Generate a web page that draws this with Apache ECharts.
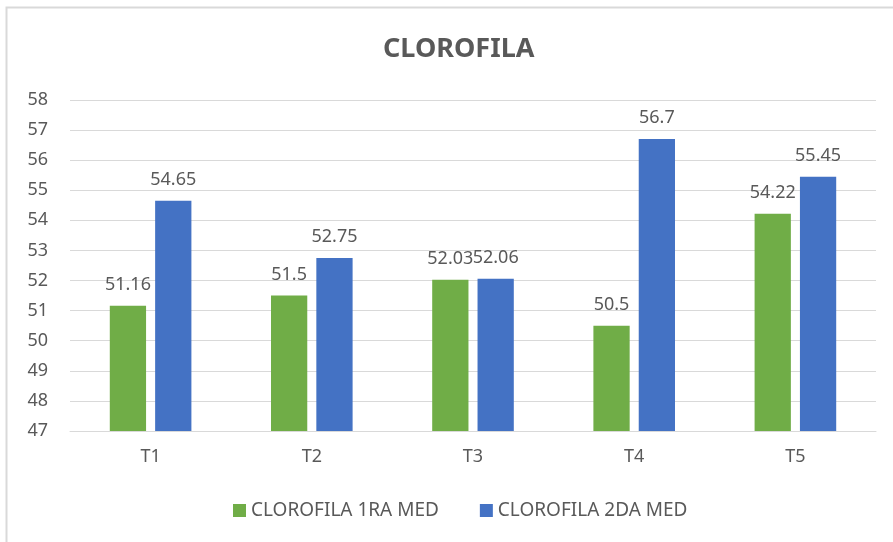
<!DOCTYPE html>
<html>
<head>
<meta charset="utf-8">
<script src="https://cdn.jsdelivr.net/npm/echarts@6/dist/echarts.min.js"></script>
<style>
  html, body { margin: 0; padding: 0; background: #fff; }
  #chart { width: 893px; height: 542px; }
</style>
</head>
<body>
<div id="chart"></div>
<script>
// 数据
const categories = ['T1', 'T2', 'T3', 'T4', 'T5'];
const seriesNames = ['CLOROFILA 1RA MED', 'CLOROFILA 2DA MED'];
const primeraMed = [51.16, 51.5, 52.03, 50.5, 54.22];
const segundaMed = [54.65, 52.75, 52.06, 56.7, 55.45];

const textColor = '#595959';
const font = '"Noto Sans", "Open Sans", sans-serif';

const chart = echarts.init(document.getElementById('chart'));

const labelStyle = {
    show: true,
    position: 'top',
    distance: 12,
    color: textColor,
    fontSize: 18,
    fontFamily: font
};

chart.setOption({
    animation: false,
    // 外框
    graphic: [{
        type: 'rect',
        shape: { x: 6.5, y: 7.5, width: 900, height: 560 },
        style: { fill: 'none', stroke: '#d9d9d9', lineWidth: 2 },
        silent: true
    }],
    title: {
        text: 'CLOROFILA',
        left: 378,
        top: 31,
        textStyle: {
            color: textColor,
            fontSize: 27,
            fontWeight: 'bold',
            fontFamily: font
        }
    },
    legend: {
        bottom: 17,
        left: 228,
        itemWidth: 13,
        itemHeight: 13,
        itemGap: 41,
        icon: 'rect',
        textStyle: { color: textColor, fontSize: 19, fontFamily: font }
    },
    grid: {
        left: 70,
        right: 17,
        top: 100,
        bottom: 111,
        containLabel: false
    },
    xAxis: {
        type: 'category',
        data: categories,
        axisLine: { lineStyle: { color: '#d9d9d9', width: 1 } },
        axisTick: { show: false },
        axisLabel: { color: textColor, fontSize: 18, fontFamily: font, margin: 17 }
    },
    yAxis: {
        type: 'value',
        min: 47,
        max: 58,
        interval: 1,
        axisLine: { show: false },
        axisTick: { show: false },
        axisLabel: { color: textColor, fontSize: 18, fontFamily: font, margin: 22 },
        splitLine: { lineStyle: { color: '#d9d9d9', width: 1 } }
    },
    series: [{
        name: seriesNames[0],
        type: 'bar',
        data: primeraMed,
        barWidth: '22.5%',
        barGap: '25%',
        itemStyle: { color: '#70ad47' },
        label: labelStyle
    }, {
        name: seriesNames[1],
        type: 'bar',
        data: segundaMed,
        barWidth: '22.5%',
        barGap: '25%',
        itemStyle: { color: '#4472c4' },
        label: labelStyle
    }]
});
</script>
</body>
</html>
